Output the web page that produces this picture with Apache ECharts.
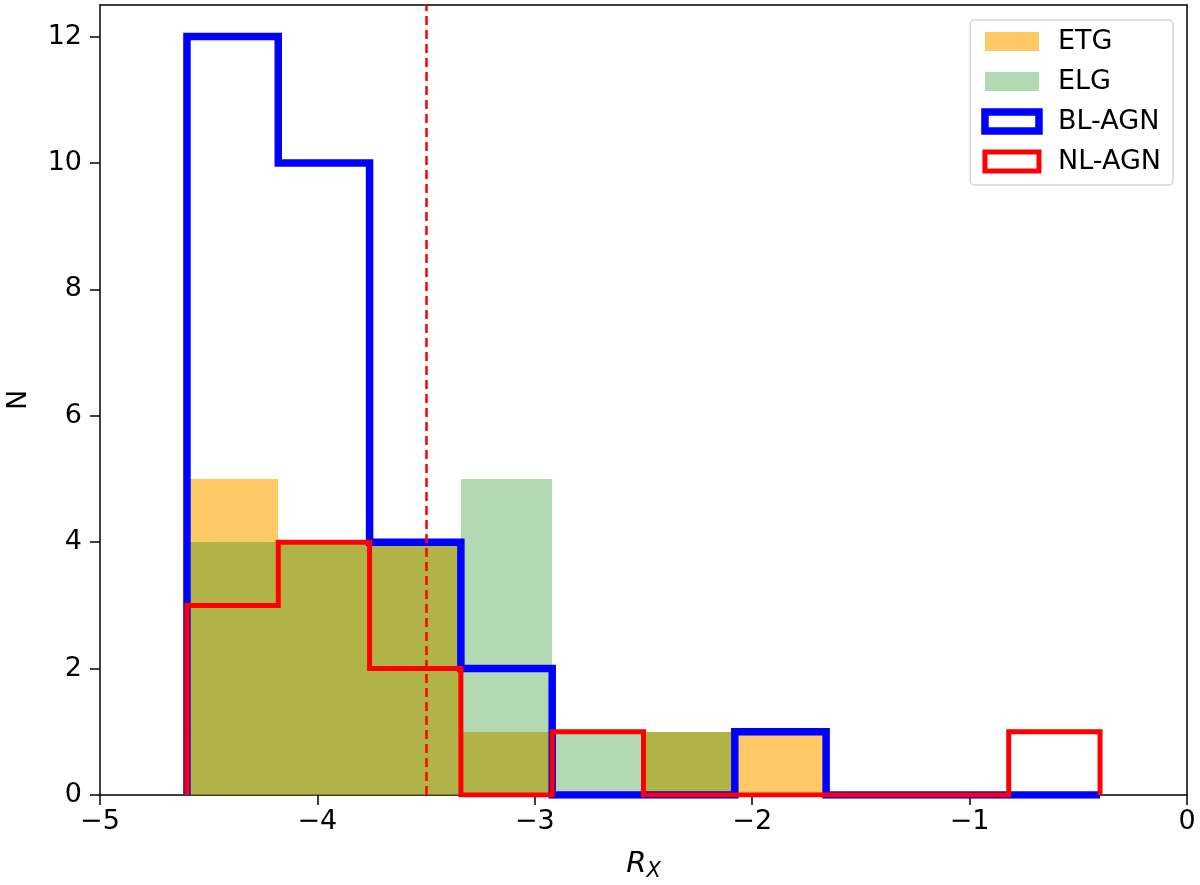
<!DOCTYPE html>
<html>
<head>
<meta charset="utf-8">
<script src="https://cdn.jsdelivr.net/npm/echarts@6/dist/echarts.min.js"></script>
<style>
  html, body { margin: 0; padding: 0; background: #fff; }
  #chart { width: 1200px; height: 885px; }
</style>
</head>
<body>
<div id="chart"></div>
<script>
// histogram bin edges (R_X)
const binEdges = [-4.60, -4.18, -3.76, -3.34, -2.92, -2.50, -2.08, -1.66, -1.24, -0.82, -0.40];
// counts per bin
const etgCounts = [5, 4, 4, 1, 0, 1, 1, 0, 0, 0];
const elgCounts = [4, 4, 4, 5, 1, 1, 0, 0, 0, 0];
const blCounts  = [12, 10, 4, 2, 0, 0, 1, 0, 0, 0];
const nlCounts  = [3, 4, 2, 0, 1, 0, 0, 0, 0, 1];
const cutValue = -3.5;
const xTicks = [-5, -4, -3, -2, -1, 0];
const yTicks = [0, 2, 4, 6, 8, 10, 12];

const font = 'DejaVu Sans';

// bars for filled hist: [x0, x1, n]
function barData(counts) {
  return counts.map((c, i) => [binEdges[i], binEdges[i + 1], c]);
}

// outline points for step hist
function stepData(counts) {
  let pts = [[binEdges[0], 0]];
  counts.forEach((c, i) => {
    pts.push([binEdges[i], c]);
    pts.push([binEdges[i + 1], c]);
  });
  pts.push([binEdges[binEdges.length - 1], 0]);
  return pts;
}

// rounded to whole pixels so neighbouring bars don't show seams
function renderBar(params, api) {
  const p0 = api.coord([api.value(0), api.value(2)]);
  const p1 = api.coord([api.value(1), 0]);
  const x0 = Math.round(p0[0]), x1 = Math.round(p1[0]);
  const y0 = Math.round(p0[1]), y1 = Math.round(p1[1]);
  return {
    type: 'rect',
    shape: { x: x0, y: y0, width: x1 - x0, height: y1 - y0 },
    style: api.style()
  };
}

const minus = v => String(v).replace('-', '\u2212');

const frame = { show: true, onZero: false, lineStyle: { color: '#000', width: 1.5 } };

const chart = echarts.init(document.getElementById('chart'));

chart.setOption({
  animation: false,
  backgroundColor: '#fff',
  textStyle: { fontFamily: font },
  grid: { left: 100, right: 13, top: 5, bottom: 90, containLabel: false, outerBoundsMode: 'none' },
  legend: {
    orient: 'vertical',
    right: 27,
    top: 20,
    padding: [8, 12, 10, 11],
    itemWidth: 54,
    itemHeight: 19,
    itemGap: 13,
    borderColor: '#d6d6d6',
    borderWidth: 1.5,
    borderRadius: 4,
    backgroundColor: '#fff',
    textStyle: { fontSize: 27, color: '#000', fontFamily: font, padding: [0, 0, 0, 14] },
    data: [
      { name: 'ETG', icon: 'rect', itemStyle: { color: 'rgba(255,165,0,0.6)' } },
      { name: 'ELG', icon: 'rect', itemStyle: { color: 'rgba(0,128,0,0.3)' } },
      { name: 'BL-AGN', icon: 'rect', itemStyle: { color: '#fff', borderColor: '#0000ff', borderWidth: 7.5 } },
      { name: 'NL-AGN', icon: 'rect', itemStyle: { color: '#fff', borderColor: '#ff0000', borderWidth: 5 } }
    ]
  },
  xAxis: [{
    type: 'value',
    min: -5, max: 0, interval: 1,
    name: '{i|R}{s|X}',
    nameLocation: 'middle',
    nameGap: 52,
    nameTextStyle: {
      rich: {
        i: { fontSize: 29, fontStyle: 'italic', fontFamily: font, color: '#000' },
        s: { fontSize: 21, fontStyle: 'italic', fontFamily: font, color: '#000', verticalAlign: 'bottom', padding: [14, 0, 0, 0] }
      }
    },
    splitLine: { show: false },
    axisLine: frame,
    axisTick: { length: 10, lineStyle: { color: '#000', width: 1.5 } },
    axisLabel: {
      fontSize: 27, color: '#000', margin: 13, fontFamily: font,
      formatter: v => xTicks.includes(v) ? minus(v) : ''
    }
  }, {
    type: 'value', position: 'top',
    min: -5, max: 0,
    splitLine: { show: false },
    axisLine: frame,
    axisTick: { show: false },
    axisLabel: { show: false }
  }],
  yAxis: [{
    type: 'value',
    min: 0, max: 12.5, interval: 2,
    name: 'N',
    nameLocation: 'middle',
    nameGap: 68,
    nameTextStyle: { fontSize: 27, color: '#000', fontFamily: font },
    splitLine: { show: false },
    axisLine: frame,
    axisTick: { show: true, length: 10, lineStyle: { color: '#000', width: 1.5 } },
    axisLabel: {
      fontSize: 27, color: '#000', margin: 18, fontFamily: font,
      showMaxLabel: false,
      formatter: v => yTicks.includes(v) ? String(v) : ''
    }
  }, {
    type: 'value', position: 'right',
    min: 0, max: 12.5,
    splitLine: { show: false },
    axisLine: frame,
    axisTick: { show: false },
    axisLabel: { show: false }
  }],
  series: [
    {
      name: 'ETG', type: 'custom', renderItem: renderBar,
      encode: { x: [0, 1], y: 2 },
      itemStyle: { color: 'rgba(255,165,0,0.6)' },
      data: barData(etgCounts), z: 1
    },
    {
      name: 'ELG', type: 'custom', renderItem: renderBar,
      encode: { x: [0, 1], y: 2 },
      itemStyle: { color: 'rgba(0,128,0,0.3)' },
      data: barData(elgCounts), z: 2
    },
    {
      name: 'BL-AGN', type: 'line', showSymbol: false, symbol: 'none',
      lineStyle: { color: '#0000ff', width: 7.5, join: 'miter' },
      itemStyle: { color: '#0000ff' },
      data: stepData(blCounts), z: 3
    },
    {
      name: 'NL-AGN', type: 'line', showSymbol: false, symbol: 'none',
      lineStyle: { color: '#ff0000', width: 5, join: 'miter' },
      itemStyle: { color: '#ff0000' },
      data: stepData(nlCounts), z: 4,
      markLine: {
        silent: true, symbol: 'none', animation: false,
        label: { show: false },
        lineStyle: { color: '#ff0000', type: [9, 5], width: 2.5 },
        data: [{ xAxis: cutValue }]
      }
    }
  ]
});
</script>
</body>
</html>
